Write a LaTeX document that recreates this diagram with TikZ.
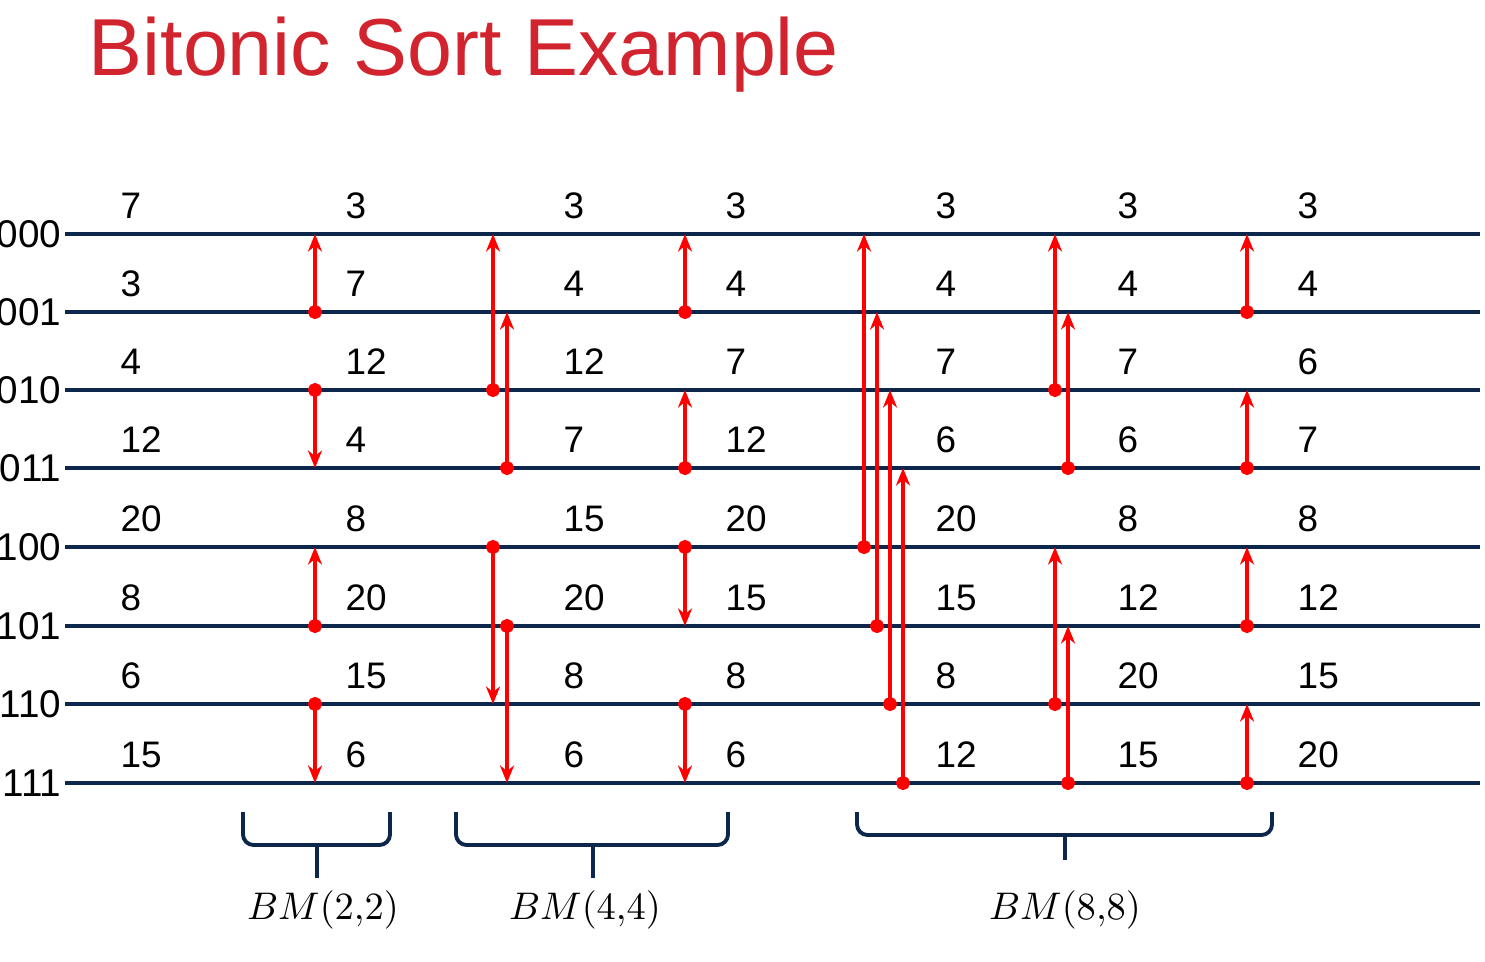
\documentclass[tikz,border=0pt]{standalone}
\usepackage{fontspec}
\setmainfont{Liberation Sans}
\usepackage{amsmath}
\usetikzlibrary{arrows.meta}
\definecolor{navy}{rgb}{0.05,0.15,0.3}
\definecolor{titlered}{rgb}{0.82,0.14,0.18}
\tikzset{
  wire/.style={navy,line width=1.1pt},
  cmp/.style={red,line width=0.9pt,shorten <=-2pt,{Circle[length=4pt]}-{Stealth[length=5pt,width=4pt]}},
  val/.style={anchor=base west,font=\fontsize{10.5}{12}\selectfont,inner sep=0pt},
  brace/.style={navy,line width=1.1pt,rounded corners=3pt}
}
% comparator: name, x position, from wire, to wire
\newcommand{\cmpr}[4]{%
  \coordinate (s#1) at (#2,-\csname wy#3\endcsname);
  \coordinate (e#1) at (#2,-\csname wy#4\endcsname);
  \draw[cmp] (s#1) -- (e#1);}
\begin{document}
\begin{tikzpicture}
  \useasboundingbox (0,0) rectangle (14.85,-9.61);
  \node[anchor=west,text=titlered,font=\fontsize{23}{26}\selectfont,inner sep=0pt] (title) at (0.88,-0.55) {Bitonic Sort Example};

  % wires
  \foreach \i/\y/\lab in {0/2.34/000,1/3.12/001,2/3.90/010,3/4.68/011,4/5.47/100,5/6.26/101,6/7.04/110,7/7.83/111}{
    \expandafter\xdef\csname wy\i\endcsname{\y}
    \coordinate (w\i) at (0.65,-\y);
    \coordinate (v\i) at (14.80,-\y);
    \draw[wire] (w\i) -- (v\i);
    \node[anchor=east,inner sep=0pt,font=\fontsize{11}{12}\selectfont] (l\i) at (0.62,-\y) {\lab};
  }

  % values
  \foreach \x/\vals in {1.20/{7,3,4,12,20,8,6,15},3.45/{3,7,12,4,8,20,15,6},5.63/{3,4,12,7,15,20,8,6},
                        7.25/{3,4,7,12,20,15,8,6},9.35/{3,4,7,6,20,15,8,12},11.17/{3,4,7,6,8,12,20,15},
                        12.97/{3,4,6,7,8,12,15,20}}{
    \foreach \v [count=\k from 0] in \vals{
      \node[val] at (\x,-\csname wy\k\endcsname+0.16) {\v};
    }
  }

  % BM(2,2)
  \cmpr{a1}{3.15}{1}{0} \cmpr{a2}{3.15}{2}{3} \cmpr{a3}{3.15}{5}{4} \cmpr{a4}{3.15}{6}{7}
  % BM(4,4)
  \cmpr{b1}{4.93}{2}{0} \cmpr{b2}{5.07}{3}{1} \cmpr{b3}{4.93}{4}{6} \cmpr{b4}{5.07}{5}{7}
  \cmpr{c1}{6.85}{1}{0} \cmpr{c2}{6.85}{3}{2} \cmpr{c3}{6.85}{4}{5} \cmpr{c4}{6.85}{6}{7}
  % BM(8,8)
  \cmpr{d1}{8.64}{4}{0} \cmpr{d2}{8.77}{5}{1} \cmpr{d3}{8.90}{6}{2} \cmpr{d4}{9.03}{7}{3}
  \cmpr{f1}{10.55}{2}{0} \cmpr{f2}{10.68}{3}{1} \cmpr{f3}{10.55}{6}{4} \cmpr{f4}{10.68}{7}{5}
  \cmpr{g1}{12.47}{1}{0} \cmpr{g2}{12.47}{3}{2} \cmpr{g3}{12.47}{5}{4} \cmpr{g4}{12.47}{7}{6}

  % braces
  \draw[brace] (2.43,-8.12) -- (2.43,-8.45) -- (3.90,-8.45) -- (3.90,-8.12);
  \draw[brace] (3.17,-8.45) -- (3.17,-8.78);
  \draw[brace] (4.56,-8.12) -- (4.56,-8.45) -- (7.28,-8.45) -- (7.28,-8.12);
  \draw[brace] (5.93,-8.45) -- (5.93,-8.78);
  \draw[brace] (8.57,-8.12) -- (8.57,-8.35) -- (12.72,-8.35) -- (12.72,-8.12);
  \draw[brace] (10.65,-8.35) -- (10.65,-8.60);
  \node[font=\fontsize{11}{13}\selectfont] (bm2) at (3.23,-9.10) {$BM(2{,}2)$};
  \node[font=\fontsize{11}{13}\selectfont] (bm4) at (5.85,-9.10) {$BM(4{,}4)$};
  \node[font=\fontsize{11}{13}\selectfont] (bm8) at (10.65,-9.10) {$BM(8{,}8)$};
\end{tikzpicture}
\end{document}
